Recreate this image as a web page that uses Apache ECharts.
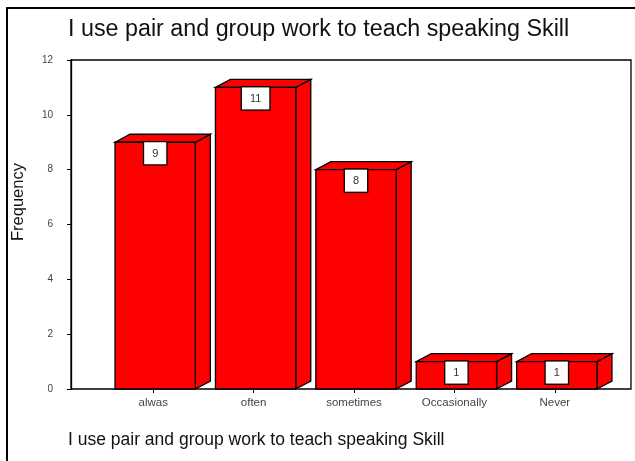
<!DOCTYPE html>
<html>
<head>
<meta charset="utf-8">
<script src="https://cdn.jsdelivr.net/npm/echarts@6/dist/echarts.min.js"></script>
<style>
html, body { margin: 0; padding: 0; background: #fff; }
#con { width: 635px; height: 461px; }
</style>
</head>
<body>
<div id="con"></div>
<script>
var titleText = 'I use pair and group work to teach speaking Skill';
var yName = 'Frequency';
var categories = ['alwas', 'often', 'sometimes', 'Occasionally', 'Never'];
var counts = [9, 11, 8, 1, 1];

var myChart = echarts.init(document.getElementById('con'));

// 3D box: side face, top face, front face, then the value box
function renderBox(params, api) {
    var base = api.coord([api.value(0), 0]);
    var top = api.coord([api.value(0), api.value(1)]);
    var bw = api.size([1, 0])[0];
    var x0 = base[0] - 0.38 * bw;
    var x1 = base[0] + 0.42 * bw;
    var y0 = top[1];
    var y1 = base[1];
    var dx = 15, dy = 8;
    var st = { fill: '#ff0000', stroke: '#000', lineWidth: 1.3 };
    return {
        type: 'group',
        children: [
            { type: 'polygon', shape: { points: [[x1, y1], [x1 + dx, y1 - dy], [x1 + dx, y0 - dy], [x1, y0]] }, style: st },
            { type: 'polygon', shape: { points: [[x0, y0], [x0 + dx, y0 - dy], [x1 + dx, y0 - dy], [x1, y0]] }, style: st },
            { type: 'rect', shape: { x: x0, y: y0, width: x1 - x0, height: y1 - y0 }, style: st },
            {
                type: 'text',
                x: (x0 + x1) / 2,
                y: y0,
                style: {
                    text: String(api.value(1)),
                    align: 'center',
                    verticalAlign: 'top',
                    fontFamily: 'Liberation Sans, Arial',
                    fontSize: 11,
                    fill: '#333',
                    backgroundColor: '#fff',
                    borderColor: '#000',
                    borderWidth: 1.3,
                    padding: [6, 8, 5, 8]
                }
            }
        ]
    };
}

var option = {
    animation: false,
    textStyle: { fontFamily: 'Liberation Sans, Arial' },
    graphic: [
        { type: 'rect', shape: { x: 7, y: 8, width: 640, height: 470 }, style: { fill: 'none', stroke: '#000', lineWidth: 2 }, z: 0 },
        { type: 'text', left: 68, top: 18, style: { text: titleText, fontSize: 23.3, fill: '#111', fontFamily: 'Liberation Sans, Arial' } },
        { type: 'text', left: 68, top: 431, style: { text: titleText, fontSize: 17.5, fill: '#111', fontFamily: 'Liberation Sans, Arial' } },
        { type: 'text', x: 10, y: 241, rotation: Math.PI / 2, style: { text: yName, fontSize: 16.5, fill: '#111', fontFamily: 'Liberation Sans, Arial' } }
    ],
    grid: [
        { left: 71, right: 4, top: 60, bottom: 72, show: true, borderColor: '#000', borderWidth: 1.3, backgroundColor: '#fff' },
        { left: 103, right: 30, top: 60, bottom: 72 }
    ],
    xAxis: [
        { type: 'value', gridIndex: 0, show: false, min: 0, max: 1 },
        {
            type: 'category', gridIndex: 1, data: categories,
            axisLine: { show: false },
            axisTick: { show: true, alignWithLabel: true, length: 4, lineStyle: { color: '#000' } },
            axisLabel: { fontSize: 11.5, color: '#444', margin: 8 }
        }
    ],
    yAxis: [
        {
            type: 'value', gridIndex: 0, min: 0, max: 12, interval: 2,
            axisLine: { show: true, lineStyle: { color: '#000', width: 1.3 } },
            axisTick: { show: true, length: 4, lineStyle: { color: '#000' } },
            axisLabel: { fontSize: 10, color: '#444', margin: 18 },
            splitLine: { show: false }
        },
        { type: 'value', gridIndex: 1, min: 0, max: 12, show: false }
    ],
    series: [{
        type: 'custom',
        xAxisIndex: 1,
        yAxisIndex: 1,
        renderItem: renderBox,
        data: counts.map(function (v, i) { return [i, v]; })
    }]
};

myChart.setOption(option);
</script>
</body>
</html>
